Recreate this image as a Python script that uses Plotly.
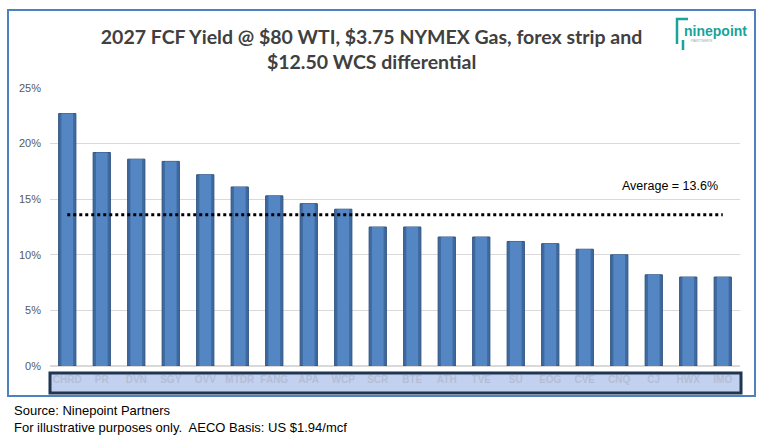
import plotly.graph_objects as go

tickers = ["CHRD", "PR", "DVN", "SGY", "OVV", "MTDR", "FANG", "APA", "WCP", "SCR",
           "BTE", "ATH", "TVE", "SU", "EOG", "CVE", "CNQ", "CJ", "HWX", "IMO"]
fcf_yield = [22.7, 19.2, 18.6, 18.4, 17.2, 16.1, 15.3, 14.6, 14.1, 12.5,
             12.5, 11.6, 11.6, 11.2, 11.0, 10.5, 10.0, 8.2, 8.0, 8.0]
average = 13.6
y_ticks = [0, 5, 10, 15, 20, 25]
y_tick_labels = ["0%", "5%", "10%", "15%", "20%", "25%"]

# pixel helpers -> paper coords (plot area x 50..740, y 88..366)
L, R, T, B = 50, 740, 88, 366
W, H = R - L, B - T
def px(x):
    return (x - L) / W
def py(y):
    return (B - y) / H

fig = go.Figure()
fig.add_trace(go.Bar(
    x=tickers, y=fcf_yield, width=0.5,
    marker=dict(color="#3E6AA0", line=dict(color="#2F5480", width=1)),
    hoverinfo="x+y", showlegend=False,
))
fig.add_trace(go.Bar(
    x=tickers, y=fcf_yield, width=0.34,
    marker=dict(color="#5486C4", line=dict(width=0)),
    hoverinfo="skip", showlegend=False,
))
fig.add_trace(go.Scatter(
    x=[tickers[0], tickers[-1]], y=[average, average], mode="lines",
    line=dict(color="black", width=3, dash="3px,3px"),
    showlegend=False, hoverinfo="skip",
))

fig.update_layout(
    width=763, height=439,
    margin=dict(l=L, r=763 - R, t=T, b=439 - B),
    paper_bgcolor="white", plot_bgcolor="rgba(0,0,0,0)",
    barmode="overlay",
    title=dict(
        text="2027 FCF Yield @ $80 WTI, $3.75 NYMEX Gas, forex strip and<br>$12.50 WCS differential",
        x=0.487, xanchor="center", y=1 - 44 / 439, yanchor="middle",
        font=dict(family="Lato", size=19.5, color="#404040", weight="bold"),
    ),
    xaxis=dict(
        type="category", showgrid=False, showline=False, zeroline=False,
        tickfont=dict(family="Liberation Sans", size=10, color="#B3BED6", weight="bold"),
        ticks="", ticklabelstandoff=6,
    ),
    yaxis=dict(
        range=[0, 25], tickvals=y_ticks, ticktext=y_tick_labels,
        showgrid=True, gridcolor="#D9D9D9", gridwidth=1,
        zeroline=True, zerolinecolor="#D9D9D9",
        tickfont=dict(family="Liberation Sans", size=11, color="#595959"),
        ticks="", ticklabelstandoff=8,
    ),
    shapes=[
        # outer blue frame
        dict(type="rect", xref="paper", yref="paper",
             x0=px(8), x1=px(755), y0=py(396), y1=py(10),
             line=dict(color="#4F81BD", width=2), layer="below"),
        # label band box
        dict(type="rect", xref="paper", yref="paper",
             x0=px(50), x1=px(741), y0=py(393), y1=py(373),
             line=dict(color="#1F3550", width=3), fillcolor="#C3D1F0", layer="below"),
        # logo bracket
        dict(type="path", xref="paper", yref="paper",
             path=f"M {px(688)},{py(19)} L {px(677)},{py(19)} L {px(677)},{py(44)} "
                  f"M {px(683)},{py(50)} L {px(683)},{py(40)}",
             line=dict(color="#1AA39A", width=2.5)),
    ],
    annotations=[
        dict(text="Average = 13.6%", xref="paper", yref="paper",
             x=px(670), y=py(186), xanchor="center", yanchor="middle", showarrow=False,
             font=dict(family="Liberation Sans", size=12.5, color="black")),
        dict(text="<b>ninepoint</b>", xref="paper", yref="paper",
             x=px(715), y=py(31), xanchor="center", yanchor="middle", showarrow=False,
             font=dict(family="Liberation Sans", size=14, color="#1AA39A")),
        dict(text="PARTNERS", xref="paper", yref="paper",
             x=px(702), y=py(41), xanchor="center", yanchor="middle", showarrow=False,
             font=dict(family="Liberation Sans", size=4, color="#9AAFAE")),
        dict(text="Source: Ninepoint Partners", xref="paper", yref="paper",
             x=px(12), y=py(410), xanchor="left", yanchor="middle", showarrow=False,
             font=dict(family="Liberation Sans", size=13, color="black")),
        dict(text="For illustrative purposes only.  AECO Basis: US $1.94/mcf", xref="paper", yref="paper",
             x=px(12), y=py(427), xanchor="left", yanchor="middle", showarrow=False,
             font=dict(family="Liberation Sans", size=13, color="black")),
    ],
)

fig.write_html("out.html", config={"displayModeBar": False},
               post_script="document.body.style.margin='0px';document.body.style.overflow='hidden';")
